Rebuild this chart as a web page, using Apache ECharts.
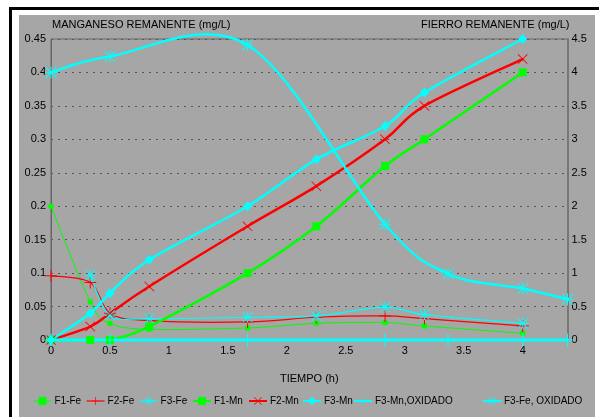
<!DOCTYPE html>
<html>
<head>
<meta charset="utf-8">
<script src="https://cdn.jsdelivr.net/npm/echarts/dist/echarts.min.js"></script>
<style>
  html, body { margin: 0; padding: 0; background: #ffffff; width: 599px; height: 417px; overflow: hidden; }
  #frame { position: absolute; left: 9px; top: 7px; width: 600px; height: 420px;
           border-top: 3px solid #000; border-left: 3px solid #000; box-sizing: border-box; }
  #chart { position: absolute; left: 19px; top: 15px; width: 576px; height: 402px; }
</style>
</head>
<body>
<div id="frame"></div>
<div id="chart"></div>
<script>
// Sampling times (h) for the three filters
const hours = [0, 0.333, 0.5, 0.833, 1.667, 2.25, 2.833, 3.167, 4];
// Sampling times (h) for the oxidised run
const hoursOx = [0, 0.5, 1.667, 2.833, 3.367, 4, 4.38];

// Remaining iron (mg/L, right axis)
const f1Fe = [2.0, 0.57, 0.25, 0.16, 0.18, 0.25, 0.26, 0.21, 0.10];
const f2Fe = [0.96, 0.86, 0.40, 0.29, 0.27, 0.34, 0.36, 0.32, 0.21];
const f3Fe = [null, 0.97, 0.37, 0.32, 0.34, 0.36, 0.49, 0.38, 0.25];
// Remaining manganese (mg/L, left axis)
const f1Mn = [0, 0, 0, 0.02, 0.10, 0.17, 0.26, 0.30, 0.40];
const f2Mn = [0, 0.02, 0.04, 0.08, 0.17, 0.23, 0.30, 0.35, 0.42];
const f3Mn = [0, 0.04, 0.07, 0.12, 0.20, 0.27, 0.32, 0.37, 0.45];
// Oxidised run
const f3MnOx = [0, 0, 0, 0, 0, 0, 0];
const f3FeOx = [4.0, 4.24, 4.41, 1.73, 0.99, 0.77, 0.61];

const seriesNames = ['F1-Fe', 'F2-Fe', 'F3-Fe', 'F1-Mn', 'F2-Mn', 'F3-Mn', 'F3-Mn,OXIDADO', 'F3-Fe, OXIDADO'];

const leftTicks = [0, 0.05, 0.1, 0.15, 0.2, 0.25, 0.3, 0.35, 0.4, 0.45];
const rightTicks = [0, 0.5, 1, 1.5, 2, 2.5, 3, 3.5, 4, 4.5];
const timeTicks = [0, 0.5, 1, 1.5, 2, 2.5, 3, 3.5, 4];

const GREEN = '#00ff00', RED = '#ff0000', CYAN = '#00ffff';
const FONT = "'Liberation Sans', Arial, sans-serif";

const PLUS = 'path://M5.5,0H6.5V5.5H12V6.5H6.5V12H5.5V6.5H0V5.5H5.5Z';
const CROSS = 'path://M0.3,1L1,0.3L6,5.3L11,0.3L11.7,1L6.7,6L11.7,11L11,11.7L6,6.7L1,11.7L0.3,11L5.3,6Z';
const STAR = 'path://M5.5,0H6.5V5.5H12V6.5H6.5V12H5.5V6.5H0V5.5H5.5Z' +
             'M0.3,1L1,0.3L6,5.3L11,0.3L11.7,1L6.7,6L11.7,11L11,11.7L6,6.7L1,11.7L0.3,11L5.3,6Z';

function pairs(xs, ys) {
  const out = [];
  xs.forEach((x, i) => { if (ys[i] !== null) out.push([x, ys[i]]); });
  return out;
}

// Markers only; the connecting curve is drawn by the companion custom series
function markers(name, xs, ys, axis, color, symbol, size) {
  return {
    name: name,
    type: 'line',
    yAxisIndex: axis,
    data: pairs(xs, ys),
    symbol: symbol,
    symbolSize: size,
    showAllSymbol: true,
    z: 3,
    lineStyle: { color: color, opacity: 0 },
    itemStyle: { color: color },
    emphasis: { disabled: true }
  };
}

// Spreadsheet-style smoothed curve: cubic Bezier segments with
// Catmull-Rom tangents (1/6 of the neighbour span), in pixel space.
function curve(name, xs, ys, axis, color, width) {
  const pts = pairs(xs, ys);
  const n = pts.length;
  return {
    name: name + ' (curva)',
    type: 'custom',
    yAxisIndex: axis,
    data: pts,
    encode: { x: 0, y: 1 },
    clip: false,
    silent: true,
    z: 2,
    renderItem: function (params, api) {
      const i = params.dataIndex;
      if (i >= n - 1) return null;
      const P = (k) => api.coord(pts[Math.max(0, Math.min(n - 1, k))]);
      const p0 = P(i - 1), p1 = P(i), p2 = P(i + 1), p3 = P(i + 2);
      return {
        type: 'bezierCurve',
        shape: {
          x1: p1[0], y1: p1[1], x2: p2[0], y2: p2[1],
          cpx1: p1[0] + (p2[0] - p0[0]) / 6, cpy1: p1[1] + (p2[1] - p0[1]) / 6,
          cpx2: p2[0] - (p3[0] - p1[0]) / 6, cpy2: p2[1] - (p3[1] - p1[1]) / 6
        },
        style: { stroke: color, lineWidth: width, fill: null, lineCap: 'round' }
      };
    }
  };
}

const defs = [
  [seriesNames[0], hours, f1Fe, 1, GREEN, 1, 'rect', 5],
  [seriesNames[1], hours, f2Fe, 1, RED, 1.2, PLUS, 12],
  [seriesNames[2], hours, f3Fe, 1, CYAN, 1.2, STAR, 11],
  [seriesNames[3], hours, f1Mn, 0, GREEN, 2.5, 'rect', 8],
  [seriesNames[4], hours, f2Mn, 0, RED, 2.5, CROSS, 10],
  [seriesNames[5], hours, f3Mn, 0, CYAN, 2.5, 'diamond', [9, 10]],
  [seriesNames[6], hoursOx, f3MnOx, 0, CYAN, 3, PLUS, 13],
  [seriesNames[7], hoursOx, f3FeOx, 1, CYAN, 2.5, STAR, 12]
];

const series = [];
defs.forEach(d => {
  series.push(curve(d[0], d[1], d[2], d[3], d[4], d[5]));
  series.push(markers(d[0], d[1], d[2], d[3], d[4], d[6], d[7]));
});

// one legend block per entry so that each sits at its own place
const legendLeft = [14, 67, 120, 173, 229, 283, 334, 463];
const legends = defs.map((d, i) => ({
  data: [{ name: d[0], lineStyle: { color: d[4], width: Math.min(d[5], 2), opacity: 1 } }],
  left: legendLeft[i],
  top: 381,
  itemWidth: 18,
  itemHeight: 10,
  itemGap: 4,
  padding: 0,
  selectedMode: false,
  textStyle: { fontFamily: FONT, fontSize: 10, color: '#000', padding: [0, 0, 0, -2] }
}));

const fmt = (ticks) => (v) => {
  const hit = ticks.find(t => Math.abs(t - v) < 1e-6);
  return hit === undefined ? '' : String(hit);
};

const chart = echarts.init(document.getElementById('chart'), null, { renderer: 'canvas' });
chart.setOption({
  animation: false,
  backgroundColor: '#a6a6a6',
  textStyle: { fontFamily: FONT },
  grid: { left: 32, right: 27.5, top: 24, bottom: 77, show: true, borderColor: '#666', borderWidth: 1, backgroundColor: 'transparent' },
  legend: legends,
  xAxis: {
    type: 'value',
    min: 0, max: 4.38, interval: 0.5,
    name: 'TIEMPO (h)',
    nameLocation: 'middle',
    nameGap: 33,
    nameTextStyle: { fontFamily: FONT, fontSize: 11, color: '#000' },
    axisLine: { show: true, lineStyle: { color: '#666', width: 1 } },
    axisTick: { show: false },
    splitLine: { show: false },
    axisLabel: { formatter: fmt(timeTicks), showMaxLabel: false, fontFamily: FONT, fontSize: 11, color: '#000', margin: 5 }
  },
  yAxis: [
    {
      type: 'value', min: 0, max: 0.45, interval: 0.05, position: 'left',
      name: 'MANGANESO REMANENTE (mg/L)',
      nameGap: 14,
      nameTextStyle: { fontFamily: FONT, fontSize: 11, color: '#000', align: 'left', verticalAlign: 'middle', padding: [0, 0, 0, 1] },
      axisLine: { show: true, lineStyle: { color: '#666', width: 1 } },
      axisTick: { show: false },
      splitLine: { show: true, lineStyle: { color: '#555', type: [2, 5], width: 1 } },
      axisLabel: { formatter: fmt(leftTicks), fontFamily: FONT, fontSize: 11, color: '#000', margin: 5 }
    },
    {
      type: 'value', min: 0, max: 4.5, interval: 0.5, position: 'right',
      name: 'FIERRO REMANENTE (mg/L)',
      nameGap: 14,
      nameTextStyle: { fontFamily: FONT, fontSize: 11, color: '#000', align: 'right', verticalAlign: 'middle', padding: [0, -2, 0, 0] },
      axisLine: { show: true, lineStyle: { color: '#777', width: 2 } },
      axisTick: { show: false },
      splitLine: { show: false },
      axisLabel: { formatter: fmt(rightTicks), fontFamily: FONT, fontSize: 11, color: '#000', margin: 4 }
    }
  ],
  series: series
});
</script>
</body>
</html>
